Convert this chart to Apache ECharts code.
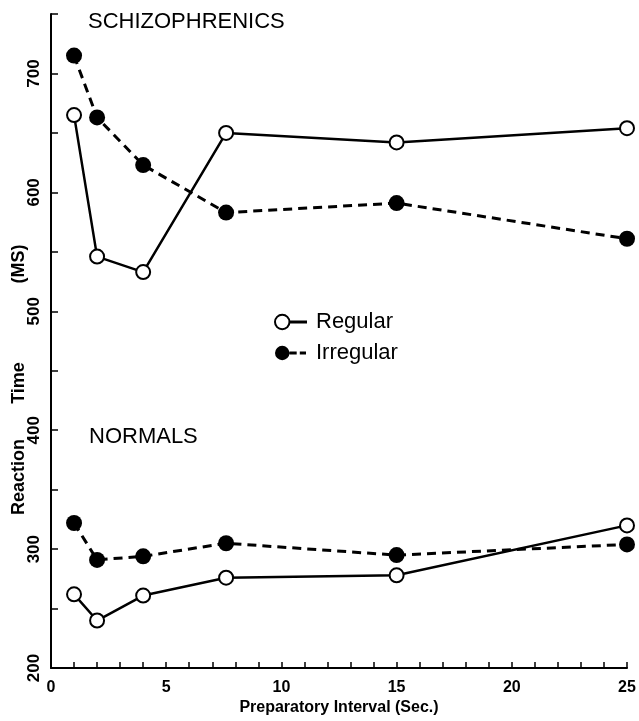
<!DOCTYPE html>
<html>
<head>
<meta charset="utf-8">
<script src="https://cdn.jsdelivr.net/npm/echarts@6/dist/echarts.min.js"></script>
<style>
  html, body { margin: 0; padding: 0; background: #fff; }
  #chart { width: 639px; height: 721px; }
</style>
</head>
<body>
<div id="chart"></div>
<script>
// preparatory interval (sec.)
const intervals = [1, 2, 4, 7.6, 15, 25];
// reaction time (ms)
const schizoRegular = [665, 546, 533, 650, 642, 654];
const schizoIrregular = [715, 663, 623, 583, 591, 561];
const normalRegular = [262, 240, 261, 276, 278, 320];
const normalIrregular = [322, 291, 294, 305, 295, 304];

const groupLabels = ["SCHIZOPHRENICS", "NORMALS"];
const yNameWords = ["(MS)", "Time", "Reaction"];

const FONT = "'Liberation Sans', Arial, Helvetica, sans-serif";

const pairs = (ys) => ys.map((y, i) => [intervals[i], y]);

const regularStyle = (name, ys) => ({
  name: name,
  type: "line",
  data: pairs(ys),
  symbol: "circle",
  symbolSize: 14,
  showAllSymbol: true,
  lineStyle: { color: "#000", width: 2.5 },
  itemStyle: { color: "#fff", borderColor: "#000", borderWidth: 2 },
  z: 3,
});

const irregularStyle = (name, ys) => ({
  name: name,
  type: "line",
  data: pairs(ys),
  symbol: "circle",
  symbolSize: 16,
  showAllSymbol: true,
  lineStyle: { color: "#000", width: 3, type: [9, 6] },
  itemStyle: { color: "#000", borderWidth: 0 },
  z: 2,
});

const chart = echarts.init(document.getElementById("chart"), null, { renderer: "canvas" });

chart.setOption({
  backgroundColor: "#fff",
  animation: false,
  textStyle: { fontFamily: FONT, color: "#000" },
  title: [
    {
      text: groupLabels[0],
      left: 88,
      top: 11,
      padding: 0,
      textStyle: { fontSize: 22, fontWeight: "normal", color: "#000", fontFamily: FONT },
    },
    {
      text: groupLabels[1],
      left: 89,
      top: 426,
      padding: 0,
      textStyle: { fontSize: 22, fontWeight: "normal", color: "#000", fontFamily: FONT },
    },
  ],
  legend: {
    orient: "vertical",
    left: 274,
    top: 311,
    padding: 0,
    itemWidth: 31,
    itemHeight: 16,
    itemGap: 9,
    textStyle: { fontSize: 22, color: "#000", fontFamily: FONT, padding: [0, 0, 0, 5], lineHeight: 22 },
    data: [
      {
        name: "Regular",
        icon: "path://M1 8A7 7 0 1 1 15 8A7 7 0 1 1 1 8Z M15 7.5L31 7.5L31 8.5L15 8.5Z",
        itemStyle: { color: "#fff", borderColor: "#000", borderWidth: 2 },
      },
      {
        name: "Irregular",
        icon: "path://M1 8A7 7 0 1 1 15 8A7 7 0 1 1 1 8Z M15 6.6L22 6.6L22 9.4L15 9.4Z M25 6.6L31 6.6L31 9.4L25 9.4Z",
        itemStyle: { color: "#000", borderWidth: 0 },
      },
    ],
  },
  graphic: yNameWords.map((w, i) => ({
    type: "text",
    x: 19,
    y: [264, 383, 477][i],
    rotation: Math.PI / 2,
    style: {
      text: w,
      font: "bold 18px " + FONT,
      fill: "#000",
      align: "center",
      verticalAlign: "middle",
    },
  })),
  grid: { left: 51, right: 12, top: 14, bottom: 49, containLabel: false },
  xAxis: {
    type: "value",
    min: 0,
    max: 25,
    interval: 1,
    name: "Preparatory Interval (Sec.)",
    nameLocation: "middle",
    nameGap: 25,
    nameTextStyle: { fontSize: 16, fontWeight: "bold", color: "#000", fontFamily: FONT, verticalAlign: "top" },
    axisLine: { show: true, lineStyle: { color: "#000", width: 2 } },
    axisTick: { show: true, inside: true, length: 6, lineStyle: { color: "#000", width: 1.5 } },
    axisLabel: {
      margin: 11,
      fontSize: 16,
      fontWeight: "bold",
      color: "#000",
      fontFamily: FONT,
      formatter: (v) => (v % 5 === 0 ? String(v) : ""),
    },
    splitLine: { show: false },
  },
  yAxis: {
    type: "value",
    min: 200,
    max: 750,
    interval: 50,
    axisLine: { show: true, lineStyle: { color: "#000", width: 2 } },
    axisTick: { show: true, inside: true, length: 7, lineStyle: { color: "#000", width: 1.5 } },
    axisLabel: {
      rotate: 90,
      margin: 8,
      fontSize: 17,
      fontWeight: "bold",
      color: "#000",
      fontFamily: FONT,
      formatter: (v) => (v % 100 === 0 ? String(v) : ""),
    },
    splitLine: { show: false },
  },
  series: [
    regularStyle("Regular", schizoRegular),
    irregularStyle("Irregular", schizoIrregular),
    regularStyle("Regular", normalRegular),
    irregularStyle("Irregular", normalIrregular),
  ],
});
</script>
</body>
</html>
